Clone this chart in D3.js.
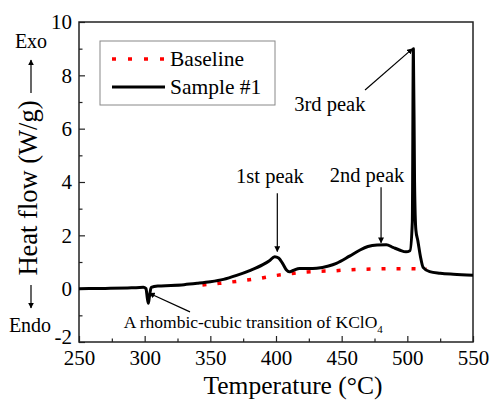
<!DOCTYPE html>
<html>
<head>
  <meta charset="utf-8" />
  <title>DSC curve</title>
  <script src="https://d3js.org/d3.v7.min.js"></script>
  <style>
    body { margin: 0; background: #fff; }
    text { font-family: "Liberation Serif", "Times New Roman", serif; }
  </style>
</head>
<body>
  <script>
    // temperature (°C), heat flow (W/g)
    const sampleT = [250, 270, 290, 299, 301, 302, 302.8, 303.6, 305, 310, 320, 330, 340, 350, 360, 370, 380, 390, 395, 399, 402, 405, 408, 410, 413, 418, 425, 431, 440, 446, 456, 464, 470, 477, 484, 489, 494, 499, 502, 503.8, 504.6, 505.5, 506.5, 508, 510, 512, 517, 525, 535, 550];
    const sampleF = [0.0, 0.01, 0.03, 0.05, 0.0, -0.35, -0.55, -0.3, 0.05, 0.1, 0.12, 0.15, 0.2, 0.26, 0.35, 0.5, 0.68, 0.9, 1.05, 1.2, 1.15, 0.95, 0.7, 0.63, 0.68, 0.76, 0.76, 0.77, 0.85, 0.95, 1.22, 1.45, 1.58, 1.64, 1.65, 1.55, 1.45, 1.38, 1.42, 2.5, 9.0, 4.0, 2.2, 1.8, 1.2, 0.8, 0.64, 0.58, 0.54, 0.5];

    const baseT = [344, 357, 371, 388, 398, 409, 421, 432, 444, 456, 476, 487, 498, 510, 515];
    const baseF = [0.14, 0.2, 0.28, 0.39, 0.48, 0.55, 0.62, 0.65, 0.67, 0.71, 0.74, 0.75, 0.75, 0.74, 0.74];

    const xTicks = [250, 300, 350, 400, 450, 500, 550];
    const yTicks = [-2, 0, 2, 4, 6, 8, 10];
    const legendNames = ["Baseline", "Sample #1"];

    const sample = sampleT.map((t, i) => ({ t: t, f: sampleF[i] }));
    const baseline = baseT.map((t, i) => ({ t: t, f: baseF[i] }));

    const width = 491, height = 405;
    const margin = { left: 79, top: 22, right: 18, bottom: 63 };
    const w = width - margin.left - margin.right;
    const h = height - margin.top - margin.bottom;

    const svg = d3.select("body").append("svg")
      .attr("width", width)
      .attr("height", height);

    const defs = svg.append("defs");
    defs.append("marker")
      .attr("id", "arr")
      .attr("viewBox", "0 0 10 10")
      .attr("refX", 9).attr("refY", 5)
      .attr("markerWidth", 6).attr("markerHeight", 6)
      .attr("markerUnits", "userSpaceOnUse")
      .attr("orient", "auto")
      .append("path")
      .attr("d", "M0,0 L10,5 L0,10 z")
      .attr("fill", "#000");

    const x = d3.scaleLinear().domain([250, 550]).range([0, w]);
    const y = d3.scaleLinear().domain([-2, 10]).range([h, 0]);

    const g = svg.append("g").attr("transform", `translate(${margin.left},${margin.top})`);

    // minor ticks
    g.append("g")
      .attr("transform", `translate(0,${h})`)
      .call(d3.axisBottom(x).tickValues(d3.range(275, 550, 50)).tickSizeInner(-3.5).tickSizeOuter(0).tickFormat(""))
      .call(a => a.select(".domain").remove());
    g.append("g")
      .call(d3.axisLeft(y).tickValues(d3.range(-1, 10, 2)).tickSizeInner(-3.5).tickSizeOuter(0).tickFormat(""))
      .call(a => a.select(".domain").remove());

    // major ticks
    const ax = g.append("g")
      .attr("transform", `translate(0,${h})`)
      .call(d3.axisBottom(x).tickValues(xTicks).tickSizeInner(-6).tickSizeOuter(0).tickPadding(8));
    ax.select(".domain").remove();
    ax.selectAll("text").attr("font-size", 21).attr("font-family", "Liberation Serif").attr("fill", "#000");

    const ay = g.append("g")
      .call(d3.axisLeft(y).tickValues(yTicks).tickSizeInner(-6).tickSizeOuter(0).tickPadding(7)
        .tickFormat(d => String(d)));
    ay.select(".domain").remove();
    ay.selectAll("text").attr("font-size", 21).attr("font-family", "Liberation Serif").attr("fill", "#000")
      .attr("dy", (d) => d === -2 ? "0.08em" : "0.32em");

    g.selectAll(".tick line").attr("stroke", "#222").attr("stroke-width", 1.2);

    // frame
    g.append("rect")
      .attr("width", w).attr("height", h)
      .attr("fill", "none")
      .attr("stroke", "#222")
      .attr("stroke-width", 1.5);

    const line = d3.line().x(d => x(d.t)).y(d => y(d.f)).curve(d3.curveMonotoneX);

    g.append("path")
      .datum(baseline)
      .attr("d", line)
      .attr("fill", "none")
      .attr("stroke", "#ff0000")
      .attr("stroke-width", 3.5)
      .attr("stroke-dasharray", "4,11");

    g.append("path")
      .datum(sample)
      .attr("d", line)
      .attr("fill", "none")
      .attr("stroke", "#000")
      .attr("stroke-width", 3)
      .attr("stroke-linejoin", "round");

    // legend
    const lg = svg.append("g");
    lg.append("rect")
      .attr("x", 100).attr("y", 41).attr("width", 175).attr("height", 64)
      .attr("fill", "#fff").attr("stroke", "#888").attr("stroke-width", 1);
    lg.append("line")
      .attr("x1", 112).attr("x2", 165).attr("y1", 59).attr("y2", 59)
      .attr("stroke", "#ff0000").attr("stroke-width", 3.5).attr("stroke-dasharray", "4,12");
    lg.append("line")
      .attr("x1", 112).attr("x2", 165).attr("y1", 87).attr("y2", 87)
      .attr("stroke", "#000").attr("stroke-width", 3);
    lg.selectAll("text.leg")
      .data(legendNames)
      .enter().append("text")
      .attr("class", "leg")
      .attr("x", 170)
      .attr("y", (d, i) => 66 + i * 28)
      .attr("font-size", 21.5)
      .text(d => d);

    // annotations (placed in data coordinates)
    function arrow(t1, f1, t2, f2) {
      g.append("line")
        .attr("x1", x(t1)).attr("y1", y(f1))
        .attr("x2", x(t2)).attr("y2", y(f2))
        .attr("stroke", "#000").attr("stroke-width", 1.2)
        .attr("marker-end", "url(#arr)");
    }
    function label(t, f, txt, anchor) {
      return g.append("text")
        .attr("x", x(t)).attr("y", y(f))
        .attr("text-anchor", anchor)
        .attr("font-size", 20.5)
        .text(txt);
    }

    label(395.4, 3.98, "1st peak", "middle");
    arrow(401, 3.58, 401, 1.39);
    label(469.3, 4.0, "2nd peak", "middle");
    arrow(480, 3.8, 480, 1.72);
    label(441, 6.65, "3rd peak", "middle");
    arrow(467.8, 7.45, 504, 9.0);

    const rt = label(284, -1.48, "A rhombic-cubic transition of ", "start").attr("font-size", 17.5);
    rt.append("tspan").text("KClO");
    rt.append("tspan").attr("font-size", 11).attr("dy", 5).text("4");
    arrow(334.5, -0.87, 303.5, -0.17);

    // axis titles
    svg.append("text")
      .attr("x", 293).attr("y", 394)
      .attr("text-anchor", "middle")
      .attr("font-size", 25.5)
      .text("Temperature (°C)");

    svg.append("text")
      .attr("transform", "translate(37,188) rotate(-90)")
      .attr("text-anchor", "middle")
      .attr("font-size", 26.5)
      .text("Heat flow (W/g)");

    svg.append("text").attr("x", 30).attr("y", 332).attr("text-anchor", "middle").attr("font-size", 20).text("Endo");
    svg.append("text").attr("x", 31).attr("y", 48).attr("text-anchor", "middle").attr("font-size", 20).text("Exo");

    svg.append("line").attr("x1", 31).attr("x2", 31).attr("y1", 93).attr("y2", 60)
      .attr("stroke", "#000").attr("stroke-width", 1.2).attr("marker-end", "url(#arr)");
    svg.append("line").attr("x1", 31).attr("x2", 31).attr("y1", 285).attr("y2", 308)
      .attr("stroke", "#000").attr("stroke-width", 1.2).attr("marker-end", "url(#arr)");
  </script>
</body>
</html>
